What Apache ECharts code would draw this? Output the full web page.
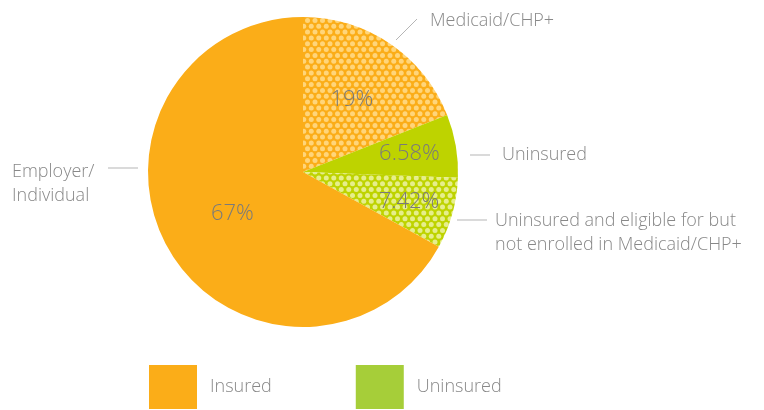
<!DOCTYPE html>
<html>
<head>
<meta charset="utf-8">
<script src="https://cdn.jsdelivr.net/npm/echarts@6/dist/echarts.min.js"></script>
<style>
  html, body { margin: 0; padding: 0; background: #fff; }
  #main { width: 764px; height: 410px; }
</style>
</head>
<body>
<div id="main"></div>
<script>
// data
var names = ['Medicaid/CHP+', 'Uninsured', 'Uninsured and eligible for but\nnot enrolled in Medicaid/CHP+', 'Employer/\nIndividual'];
var values = [19, 6.58, 7.42, 67];
var pctLabels = ['19%', '6.58%', '7.42%', '67%'];
var groups = ['Insured', 'Uninsured', 'Uninsured', 'Insured'];
var legendNames = ['Insured', 'Uninsured'];

// layout
var cx = 303, cy = 172, R = 155;
var innerLabelR = [87, 108, 110, 82];
var outerLabel = [
  { x: 430, y: 21, line: [[396, 40], [406, 30], [417, 19]] },
  { x: 502, y: 155, line: [[470, 155], [480, 155], [490, 155]] },
  { x: 495, y: 233, line: [[457, 220], [472, 220], [487, 220]] },
  { x: 12, y: 184, line: [[108, 168], [123, 168], [138, 168]] }
];

// staggered dot pattern (4 dots per row, 6 rows per tile)
function dotPattern(bg, dot) {
  var w = 30, h = 35, rows = 6, cols = 4;
  var c = document.createElement('canvas');
  c.width = w; c.height = h;
  var ctx = c.getContext('2d');
  ctx.fillStyle = bg;
  ctx.fillRect(0, 0, w, h);
  ctx.fillStyle = dot;
  var sx = w / cols, sy = h / rows;
  for (var r = 0; r < rows; r++) {
    for (var k = -1; k <= cols; k++) {
      var x = k * sx + (r % 2 ? 0 : sx / 2);
      var y = r * sy + sy / 2;
      ctx.beginPath();
      ctx.arc(x, y, 2.5, 0, Math.PI * 2);
      ctx.fill();
    }
  }
  return c;
}

var sliceColors = [
  { image: dotPattern('#fbad18', '#ffd57a'), repeat: 'repeat' },
  '#bed300',
  { image: dotPattern('#bed300', '#e6ee8c'), repeat: 'repeat' },
  '#fbad18'
];
var legendColors = ['#fbad18', '#a6ce39'];

// mid angles of slices
var total = values.reduce(function (a, b) { return a + b; }, 0);
var midAngle = [], cum = 0;
values.forEach(function (v) {
  midAngle.push(90 - 360 * (cum + v / 2) / total);
  cum += v;
});

var groupSums = legendNames.map(function (g) {
  var s = 0;
  values.forEach(function (v, i) { if (groups[i] === g) s += v; });
  return s;
});

var font = '"Open Sans", "DejaVu Sans", sans-serif';

var myChart = echarts.init(document.getElementById('main'));
var option = {
  animation: false,
  legend: {
    data: legendNames.map(function (g, i) {
      return { name: g, itemStyle: { color: legendColors[i] } };
    }),
    left: 144,
    top: 360,
    itemWidth: 48,
    itemHeight: 44,
    itemGap: 84,
    icon: 'rect',
    selectedMode: false,
    textStyle: { fontSize: 18, color: '#888', fontFamily: font, fontWeight: 300, padding: [0, 0, 0, 8] }
  },
  series: [
    {
      type: 'pie',
      center: [cx, cy],
      radius: R,
      startAngle: 90,
      clockwise: true,
      silent: true,
      data: values.map(function (v, i) {
        return { name: names[i], value: v, itemStyle: { color: sliceColors[i] } };
      }),
      label: {
        show: true,
        position: 'inside',
        formatter: function (p) { return pctLabels[p.dataIndex]; },
        fontSize: 22,
        color: '#7a7a7a',
        fontFamily: font,
        fontWeight: 300
      },
      labelLayout: function (p) {
        var a = midAngle[p.dataIndex] * Math.PI / 180;
        var r = innerLabelR[p.dataIndex];
        return { x: cx + r * Math.cos(a), y: cy - r * Math.sin(a), align: 'center', verticalAlign: 'middle' };
      },
      labelLine: { show: false }
    },
    {
      type: 'pie',
      center: [cx, cy],
      radius: R,
      startAngle: 90,
      clockwise: true,
      silent: true,
      data: values.map(function (v, i) {
        return { name: names[i], value: v, itemStyle: { color: 'rgba(0,0,0,0)' } };
      }),
      label: {
        show: true,
        position: 'outside',
        formatter: '{b}',
        fontSize: 18,
        lineHeight: 24,
        color: '#888',
        fontFamily: font,
        fontWeight: 300
      },
      labelLine: { show: true, lineStyle: { color: '#b5b5b5', width: 1 } },
      labelLayout: function (p) {
        var o = outerLabel[p.dataIndex];
        return { x: o.x, y: o.y, align: 'left', verticalAlign: 'middle', labelLinePoints: o.line };
      }
    },
    {
      type: 'pie',
      center: [cx, cy],
      radius: 0,
      silent: true,
      label: { show: false },
      labelLine: { show: false },
      data: legendNames.map(function (g, i) {
        return { name: g, value: groupSums[i], itemStyle: { color: legendColors[i] } };
      })
    }
  ]
};
myChart.setOption(option);
</script>
</body>
</html>
